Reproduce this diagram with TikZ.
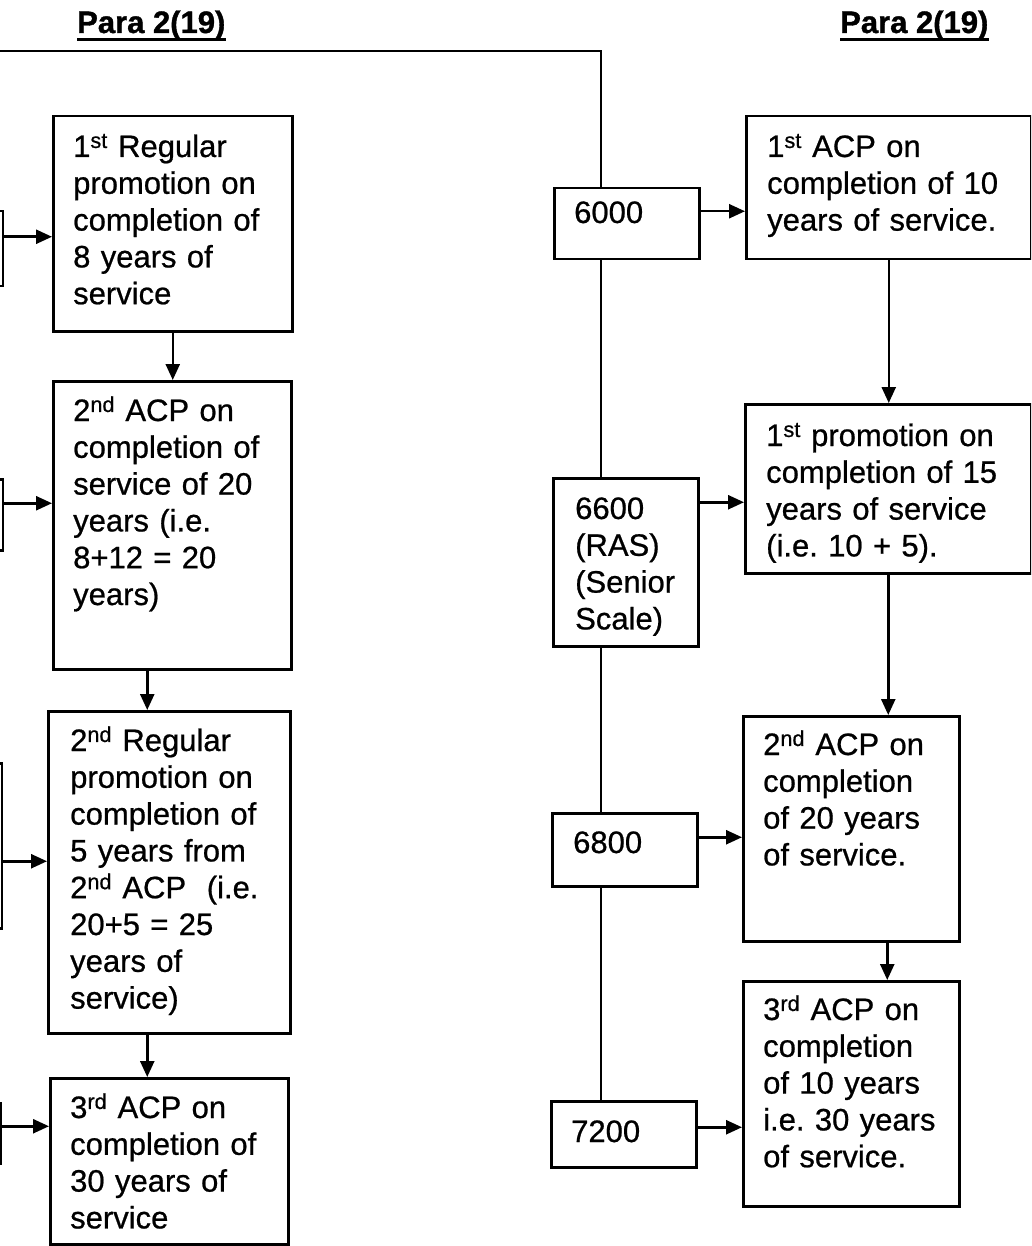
\documentclass[tikz,border=0pt]{standalone}
\usepackage{fontspec}
\setmainfont[FakeBold=0.7]{Liberation Sans}
\frenchspacing
\usetikzlibrary{arrows.meta,calc}
\begin{document}
\begin{tikzpicture}[x=1pt,y=-1pt,
  box/.style={draw=black, line width=2.5pt, inner sep=0pt, anchor=north west},
  pbox/.style={draw=black, line width=2.5pt, inner sep=0pt, anchor=north east, minimum width=40pt},
  txt/.style={anchor=base west, inner sep=0pt, align=left, text width=#1, font=\fontsize{31}{36.8}\selectfont\frenchspacing},
  txt/.default=240pt,
  arr/.style={line width=2.5pt, -{Triangle[length=16pt,width=14pt]}},
  ln/.style={line width=2.5pt},
  head/.style={anchor=base west, inner sep=0pt, font=\fontsize{31}{36.8}\selectfont}]
\useasboundingbox (0,0) rectangle (1031,1246);
\clip (0,0) rectangle (1031,1246);

% headings
\node[head] (h1) at (77,33) {\fontspec[FakeBold=1.2]{Liberation Sans Bold}Para 2(19)};
\node[head] (h2) at (840,33) {\fontspec[FakeBold=1.2]{Liberation Sans Bold}Para 2(19)};
\draw[ln] (h1.south west) -- (h1.south east);
\draw[ln] (h2.south west) -- (h2.south east);

% left column boxes
\node[box, minimum width=239pt, minimum height=215pt] (b1) at (52,115) {};
\node[box, minimum width=238pt, minimum height=288pt] (b2) at (52,380) {};
\node[box, minimum width=242pt, minimum height=322pt] (b3) at (47,710) {};
\node[box, minimum width=238pt, minimum height=166pt] (b4) at (49,1077) {};

\node[txt] (b1t) at ([shift={(21pt,-42pt)}]b1.north west) {1\textsuperscript{st} Regular\\promotion on\\completion of\\8 years of\\service};
\node[txt] (b2t) at ([shift={(21pt,-41pt)}]b2.north west) {2\textsuperscript{nd} ACP on\\completion of\\service of 20\\years (i.e.\\8+12 = 20\\years)};
\node[txt] (b3t) at ([shift={(23pt,-41pt)}]b3.north west) {2\textsuperscript{nd} Regular\\promotion on\\completion of\\5 years from\\2\textsuperscript{nd} ACP\ \ (i.e.\\20+5 = 25\\years of\\service)};
\node[txt] (b4t) at ([shift={(21pt,-41pt)}]b4.north west) {3\textsuperscript{rd} ACP on\\completion of\\30 years of\\service};

% partial boxes at the left edge
\node[pbox, minimum height=75pt] (pA) at (4,210) {};
\node[pbox, minimum height=71pt] (pB) at (4,478) {};
\node[pbox, minimum height=165pt] (pC) at (3,762) {};
\node[pbox, minimum height=60pt] (pD) at (2,1102) {};

\draw[arr] ([yshift=12pt]pA.east) -- ([yshift=12pt]pA.east -| b1.west);
\draw[arr] ([yshift=11.5pt]pB.east) -- ([yshift=11.5pt]pB.east -| b2.west);
\draw[arr] ([yshift=-15.5pt]pC.east) -- ([yshift=-15.5pt]pC.east -| b3.west);
\draw[arr] ([yshift=7pt]pD.east) -- ([yshift=7pt]pD.east -| b4.west);

\draw[arr] (b1.south) -- (b1.south |- b2.north);
\draw[arr] ([xshift=-25pt]b2.south) -- ([xshift=-25pt]b2.south |- b3.north);
\draw[arr] ([xshift=-22pt]b3.south) -- ([xshift=-22pt]b3.south |- b4.north);

% right: pay scale boxes
\node[box, minimum width=145pt, minimum height=71pt] (r0) at (553,187) {};
\node[box, minimum width=145pt, minimum height=168pt] (r1) at (552,477) {};
\node[box, minimum width=145pt, minimum height=73pt] (r2) at (551,812) {};
\node[box, minimum width=145pt, minimum height=66pt] (r3) at (550,1100) {};

\node[txt=120pt] (r0t) at ([shift={(21pt,-36pt)}]r0.north west) {6000};
\node[txt=120pt] (r1t) at ([shift={(23pt,-42pt)}]r1.north west) {6600\\(RAS)\\(Senior\\Scale)};
\node[txt=120pt] (r2t) at ([shift={(22pt,-41pt)}]r2.north west) {6800};
\node[txt=120pt] (r3t) at ([shift={(21pt,-42pt)}]r3.north west) {7200};

% right: ACP boxes
\node[box, minimum width=285pt, minimum height=143pt] (a1) at (745,115) {};
\node[box, minimum width=286pt, minimum height=169pt] (a2) at (744,403) {};
\node[box, minimum width=216pt, minimum height=225pt] (a3) at (742,715) {};
\node[box, minimum width=216pt, minimum height=225pt] (a4) at (742,980) {};

\node[txt=262pt] (a1t) at ([shift={(22pt,-42pt)}]a1.north west) {1\textsuperscript{st} ACP on\\completion of 10\\years of service.};
\node[txt=262pt] (a2t) at ([shift={(22pt,-43pt)}]a2.north west) {1\textsuperscript{st} promotion on\\completion of 15\\years of service\\(i.e. 10 + 5).};
\node[txt=195pt] (a3t) at ([shift={(21pt,-40pt)}]a3.north west) {2\textsuperscript{nd} ACP on\\completion\\of 20 years\\of service.};
\node[txt=195pt] (a4t) at ([shift={(21pt,-40pt)}]a4.north west) {3\textsuperscript{rd} ACP on\\completion\\of 10 years\\i.e. 30 years\\of service.};

% connectors right
\coordinate (vx) at (601,0);
\coordinate (hl) at (0,51);
\draw[ln] (hl) -| (r0.north -| vx);
\draw[ln] (r0.south -| vx) -- (r1.north -| vx);
\draw[ln] (r1.south -| vx) -- (r2.north -| vx);
\draw[ln] (r2.south -| vx) -- (r3.north -| vx);

\draw[arr] ([yshift=12.5pt]r0.east) -- ([yshift=12.5pt]r0.east -| a1.west);
\draw[arr] ([yshift=60pt]r1.east) -- ([yshift=60pt]r1.east -| a2.west);
\draw[arr] ([yshift=12.5pt]r2.east) -- ([yshift=12.5pt]r2.east -| a3.west);
\draw[arr] ([yshift=7pt]r3.east) -- ([yshift=7pt]r3.east -| a4.west);

\draw[arr] (a1.south) -- (a1.south |- a2.north);
\draw[arr] (a2.south) -- (a2.south |- a3.north);
\draw[arr] ([xshift=36pt]a3.south) -- ([xshift=36pt]a3.south |- a4.north);
\end{tikzpicture}
\end{document}
